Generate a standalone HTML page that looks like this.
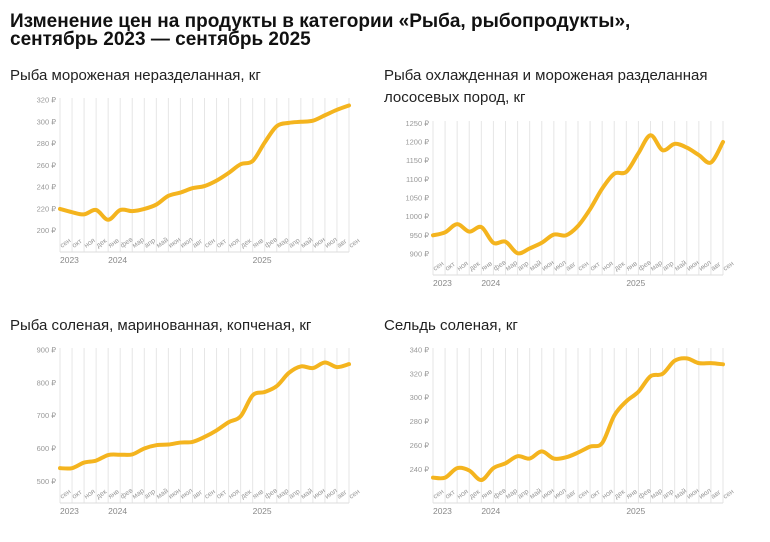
<!DOCTYPE html>
<html><head><meta charset="utf-8"><style>
body{margin:0;background:#fff;width:770px;height:542px;overflow:hidden;font-family:"Liberation Sans",sans-serif;}
svg{position:absolute;left:0;top:0}
</style></head><body>
<svg id="s" width="770" height="542" xmlns="http://www.w3.org/2000/svg" font-family="Liberation Sans, sans-serif">
<text x="10" y="27" font-size="19" font-weight="bold" fill="#111">Изменение цен на продукты в категории «Рыба, рыбопродукты»,</text>
<text x="10" y="45" font-size="19" font-weight="bold" fill="#111">сентябрь 2023 — сентябрь 2025</text>
<text x="10" y="80" font-size="15" fill="#222">Рыба мороженая неразделанная, кг</text>
<text x="384" y="80" font-size="15" fill="#222">Рыба охлажденная и мороженая разделанная</text>
<text x="384" y="102" font-size="15" fill="#222">лососевых пород, кг</text>
<text x="10" y="330" font-size="15" fill="#222">Рыба соленая, маринованная, копченая, кг</text>
<text x="384" y="330" font-size="15" fill="#222">Сельдь соленая, кг</text>
<g id="g"></g>
</svg>
<script>
var NS="http://www.w3.org/2000/svg",g=document.getElementById("g");
function el(t,a,txt){var e=document.createElementNS(NS,t);for(var k in a)e.setAttribute(k,a[k]);if(txt!=null)e.textContent=txt;g.appendChild(e);return e;}
var M=["сен","окт","ноя","дек","янв","фев","мар","апр","май","июн","июл","авг"];
function chart(c){
 var dx=(c.x1-c.x0)/24;
 for(var i=0;i<25;i++){var x=c.x0+i*dx;el("line",{x1:x,y1:c.gt,x2:x,y2:c.gb,stroke:"#e6e6e6","stroke-width":1});}
 el("line",{x1:c.x0,y1:c.gb,x2:c.x1,y2:c.gb,stroke:"#ddd","stroke-width":1});
 c.ticks.forEach(function(t){var y=c.yA+(t-c.vA)*(c.yB-c.yA)/(c.vB-c.vA);
  el("text",{x:c.x0-4,y:y+2.5,"font-size":7.5,fill:"#999","text-anchor":"end"},t+" ₽");});
 for(var i=0;i<25;i++){var x=c.x0+i*dx+2,y=c.gb-4;
  el("text",{x:x,y:y,"font-size":7,fill:"#999",transform:"rotate(-35 "+x+" "+y+")"},M[i%12]);}
 [["2023",0],["2024",4],["2025",16]].forEach(function(a){el("text",{x:c.x0+a[1]*dx,y:c.gb+11,"font-size":8.5,fill:"#888"},a[0]);});
 var p=c.v.map(function(v,i){return [c.x0+i*dx,c.yA+(v-c.vA)*(c.yB-c.yA)/(c.vB-c.vA)];});
 var d="M"+p[0][0]+","+p[0][1];
 for(var i=0;i<p.length-1;i++){var p0=p[i-1]||p[i],p1=p[i],p2=p[i+1],p3=p[i+2]||p2;
  d+=" C"+(p1[0]+(p2[0]-p0[0])/6)+","+(p1[1]+(p2[1]-p0[1])/6)+" "+(p2[0]-(p3[0]-p1[0])/6)+","+(p2[1]-(p3[1]-p1[1])/6)+" "+p2[0]+","+p2[1];}
 el("path",{d:d,fill:"none",stroke:"#f4b41e","stroke-width":4,"stroke-linecap":"round","stroke-linejoin":"round"});
}
chart({x0:60,x1:349,gt:98,gb:252,yA:100,vA:320,yB:230.7,vB:200,ticks:[200,220,240,260,280,300,320],
 v:[220,217,215,219,210,219,218,220,224,232,235,239,241,246,253,261,264,281,296,299,300,301,306,311,315]});
chart({x0:433,x1:723,gt:121,gb:275,yA:123.3,vA:1250,yB:254,vB:900,ticks:[900,950,1000,1050,1100,1150,1200,1250],
 v:[950,958,980,960,972,930,933,902,915,930,952,950,975,1020,1075,1115,1120,1170,1218,1178,1195,1185,1165,1145,1200]});
chart({x0:60,x1:349,gt:348,gb:503,yA:350,vA:900,yB:481.3,vB:500,ticks:[500,600,700,800,900],
 v:[540,540,557,563,580,581,582,600,610,612,618,620,635,655,680,698,762,772,790,830,850,845,862,848,857]});
chart({x0:433,x1:723,gt:348,gb:503,yA:350,vA:340,yB:469.3,vB:240,ticks:[240,260,280,300,320,340],
 v:[233,233,241,239,231,241,245,251,249,255,249,250,254,259,262,285,297,305,318,320,331,333,329,329,328]});
</script>
</body></html>
